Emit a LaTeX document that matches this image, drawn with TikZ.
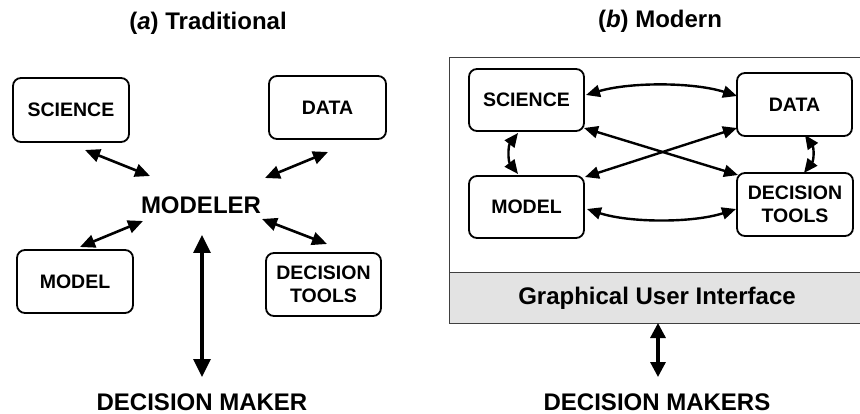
\documentclass[tikz,border=0pt]{standalone}
\usepackage{fontspec}
\setmainfont{Liberation Sans}
\usetikzlibrary{arrows.meta}
\begin{document}
\begin{tikzpicture}[x=1pt,y=-1pt,
  boxnode/.style={draw,line width=1.8pt,rounded corners=8pt,align=center,inner sep=0pt,
    font=\fontsize{19.5}{23}\selectfont\bfseries},
  bigtext/.style={font=\fontsize{24}{28}\selectfont\bfseries,inner sep=0pt},
  darrow/.style={line width=2.6pt,{Triangle[length=15pt,width=13pt]}-{Triangle[length=15pt,width=13pt]}},
  carrow/.style={line width=2.4pt,{Triangle[length=14pt,width=12pt]}-{Triangle[length=14pt,width=12pt]}},
  varrow/.style={line width=3.4pt,{Triangle[length=18pt,width=17pt]}-{Triangle[length=18pt,width=17pt]}},
  vrarrow/.style={line width=3.2pt,{Triangle[length=15pt,width=15pt]}-{Triangle[length=15pt,width=15pt]}}]
\useasboundingbox (0,0) rectangle (860,414);
% ---------- (a) Traditional ----------
\node[bigtext] (tA) at (208,23) {(\textit{a}) Traditional};
\node[boxnode,minimum width=116pt,minimum height=64pt] (sciA) at (71,110) {SCIENCE};
\node[boxnode,minimum width=117pt,minimum height=63pt] (dataA) at (327.5,107.5) {DATA};
\node[boxnode,minimum width=116pt,minimum height=63pt] (modA) at (75,281.5) {MODEL};
\node[boxnode,minimum width=115pt,minimum height=63pt] (dtA) at (323.5,284.5) {DECISION\\TOOLS};
\node[bigtext] (modeler) at (201,205) {MODELER};
\node[bigtext] (dmA) at (202,402) {DECISION MAKER};
\coordinate (a1) at (85,150); \coordinate (a2) at (150,176);
\coordinate (b1) at (328,152); \coordinate (b2) at (265,178);
\coordinate (c1) at (80,247); \coordinate (c2) at (143,221);
\coordinate (d1) at (262,219); \coordinate (d2) at (327,244);
\coordinate (e1) at (202,235); \coordinate (e2) at (202,377);
\draw[darrow] (a1) -- (a2);
\draw[darrow] (b1) -- (b2);
\draw[darrow] (c1) -- (c2);
\draw[darrow] (d1) -- (d2);
\draw[varrow] (e1) -- (e2);
% ---------- (b) Modern ----------
\node[bigtext] (tB) at (660,21) {(\textit{b}) Modern};
\fill[gray!22] (449,272) rectangle (866,323);
\draw[line width=0.9pt,black!75] (866,57) -- (449,57) -- (449,323) -- (866,323);
\draw[line width=0.9pt,black!75] (449,272) -- (866,272);
\node[bigtext] (gui) at (657,298) {Graphical User Interface};
\node[boxnode,minimum width=115pt,minimum height=62pt] (sciB) at (526.5,100) {SCIENCE};
\node[boxnode,minimum width=115pt,minimum height=63pt] (dataB) at (794.5,104.5) {DATA};
\node[boxnode,minimum width=115pt,minimum height=62pt] (modB) at (526.5,207) {MODEL};
\node[boxnode,minimum width=116pt,minimum height=63pt] (dtB) at (795,204.5) {DECISION\\TOOLS};
\node[bigtext] (dmB) at (657,402) {DECISION MAKERS};
\coordinate (f1) at (586,95); \coordinate (f2) at (737,96);
\coordinate (g1) at (587,209); \coordinate (g2) at (736,209);
\coordinate (h1) at (584,128); \coordinate (h2) at (738,175);
\coordinate (i1) at (737,128); \coordinate (i2) at (585,177);
\coordinate (j1) at (518,133); \coordinate (j2) at (518,174);
\coordinate (k1) at (805,135); \coordinate (k2) at (804,173);
\coordinate (m1) at (658,323); \coordinate (m2) at (658,377);
\draw[carrow] (f1) .. controls (630,82) and (693,82) .. (f2);
\draw[carrow] (g1) .. controls (630,223) and (693,223) .. (g2);
\draw[carrow] (h1) -- (h2);
\draw[carrow] (i1) -- (i2);
\draw[carrow] (j1) .. controls (508,146) and (508,161) .. (j2);
\draw[carrow] (k1) .. controls (814,148) and (814,160) .. (k2);
\draw[vrarrow] (m1) -- (m2);
\end{tikzpicture}
\end{document}
